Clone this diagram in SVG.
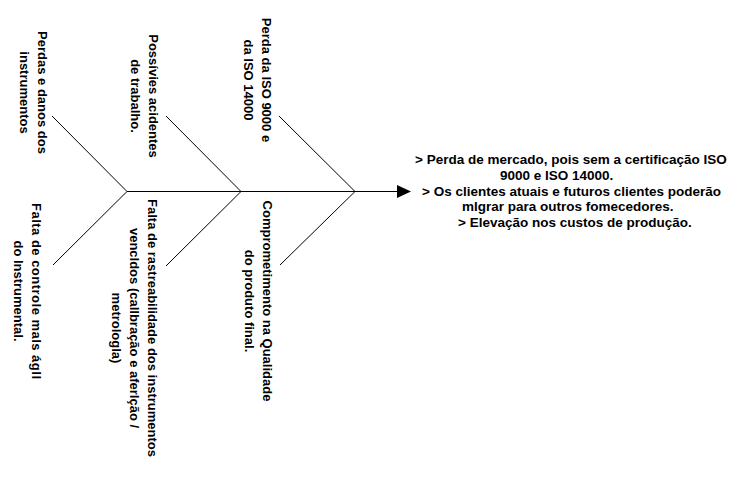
<svg xmlns="http://www.w3.org/2000/svg" width="735" height="477" viewBox="0 0 735 477">
<style>
  .bg { fill: #ffffff; }
  .ln { stroke: #000000; stroke-width: 1; fill: none; }
  .lbl { font-family: "Liberation Sans", Arial, sans-serif; font-weight: bold; font-size: 13px; fill: #000000; text-anchor: middle; }
  .eff { font-family: "Liberation Sans", Arial, sans-serif; font-weight: bold; font-size: 13.5px; fill: #000000; }
</style>
<defs>
  <marker id="arrow" markerWidth="14" markerHeight="13" refX="0" refY="6.5" orient="auto" markerUnits="userSpaceOnUse">
    <polygon points="0,0 14,6.5 0,13" fill="#000000"/>
  </marker>
</defs>
<rect class="bg" x="0" y="0" width="735" height="477"/>
<g id="connectors">
  <line class="ln" x1="127" y1="191.5" x2="397" y2="191.5" marker-end="url(#arrow)"/>
  <line class="ln" x1="52" y1="116" x2="127" y2="191.5"/>
  <line class="ln" x1="166" y1="116" x2="241" y2="191.5"/>
  <line class="ln" x1="279" y1="116" x2="355" y2="191.5"/>
  <line class="ln" x1="127" y1="191.5" x2="53" y2="265"/>
  <line class="ln" x1="241" y1="191.5" x2="166" y2="266"/>
  <line class="ln" x1="355" y1="191.5" x2="280" y2="265"/>
</g>
<g id="cause-perdas-danos">
  <text class="lbl" transform="translate(38,92.5) rotate(90)"><tspan x="0" y="0">Perdas e danos dos</tspan><tspan x="0" dy="18">instrumentos</tspan></text>
</g>
<g id="cause-acidentes">
  <text class="lbl" transform="translate(149,96) rotate(90)"><tspan x="0" y="0">Possívies acidentes</tspan><tspan x="0" dy="18">de trabalho.</tspan></text>
</g>
<g id="cause-perda-iso">
  <text class="lbl" transform="translate(262,80) rotate(90)"><tspan x="0" y="0">Perda da ISO 9000 e</tspan><tspan x="0" dy="18">da ISO 14000</tspan></text>
</g>
<g id="cause-controle">
  <text class="lbl" transform="translate(32,291) rotate(90)"><tspan x="0" y="0" textLength="176" lengthAdjust="spacing">Falta de controle mals ágll</tspan><tspan x="0" dy="18">do Instrumental.</tspan></text>
</g>
<g id="cause-rastreabilidade">
  <text class="lbl" transform="translate(148,328) rotate(90)"><tspan x="0" y="0">Falta de rastreabilidade dos instrumentos</tspan><tspan x="0" dy="18">vencldos (callbração e aferlção /</tspan><tspan x="0" dy="18">metrologla)</tspan></text>
</g>
<g id="cause-qualidade">
  <text class="lbl" transform="translate(263,301) rotate(90)"><tspan x="0" y="0">Comprometimento na Qualidade</tspan><tspan x="0" dy="18">do produto final.</tspan></text>
</g>
<g id="effect">
  <text class="eff">
    <tspan x="415" y="164">&gt; Perda de mercado, pois sem a certificação ISO</tspan>
    <tspan x="500" y="179.8">9000 e ISO 14000.</tspan>
    <tspan x="422" y="195.5">&gt; Os clientes atuais e futuros clientes poderão</tspan>
    <tspan x="462" y="211.3">mlgrar para outros fomecedores.</tspan>
    <tspan x="458" y="227">&gt; Elevação nos custos de produção.</tspan>
  </text>
</g>
</svg>
